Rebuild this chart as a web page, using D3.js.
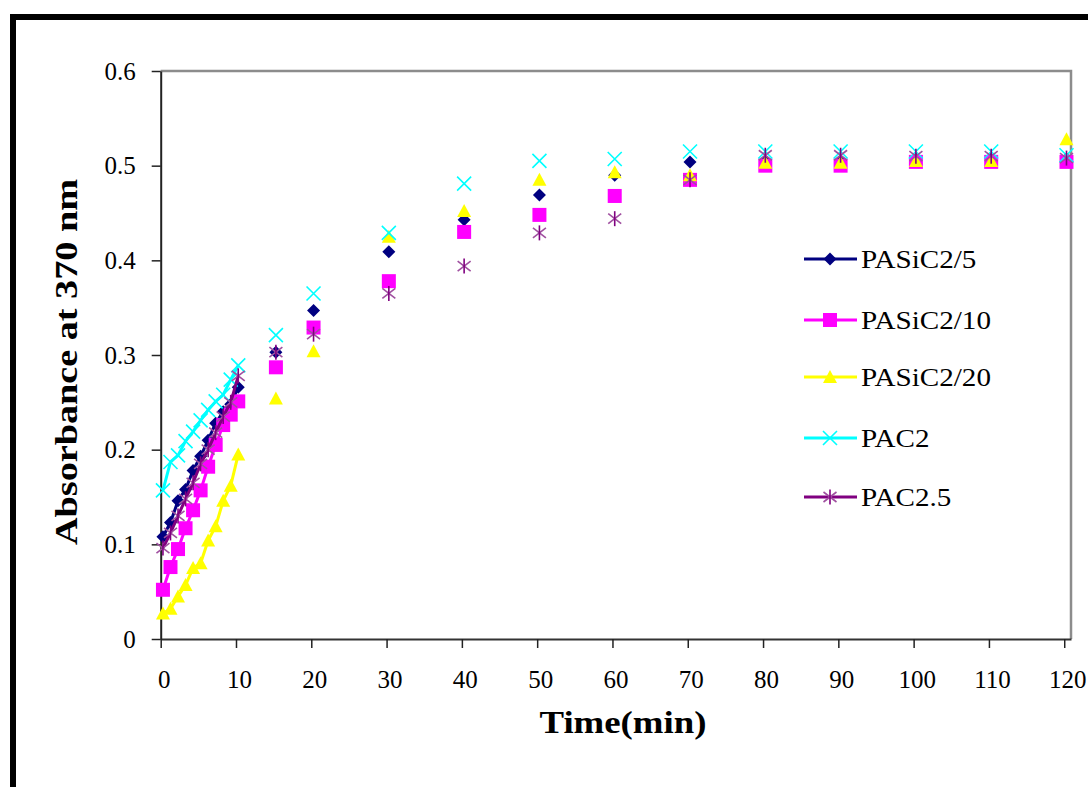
<!DOCTYPE html>
<html><head><meta charset="utf-8">
<script src="https://cdn.jsdelivr.net/npm/d3@7"></script>
<style>body{margin:0;background:#fff;overflow:hidden} text{font-family:"Liberation Serif","Times New Roman",serif;fill:#000}</style>
</head><body><svg id="c" width="1088" height="787"></svg>
<script>
const times = [0.3,1.3,2.3,3.3,4.3,5.3,6.3,7.3,8.3,9.3,10.3,15.3,20.3,30.3,40.3,50.3,60.3,70.3,80.3,90.3,100.3,110.3,120.3];
const pasic5  = [0.108,0.123,0.146,0.158,0.178,0.193,0.210,0.228,0.240,0.248,0.266,0.303,0.347,0.409,0.443,0.469,0.490,0.504,0.505,0.505,0.507,0.507,0.507];
const pasic10 = [0.052,0.076,0.095,0.117,0.136,0.157,0.182,0.205,0.226,0.237,0.251,0.287,0.329,0.378,0.430,0.448,0.468,0.485,0.500,0.500,0.504,0.504,0.504];
const pasic20 = [0.027,0.032,0.045,0.057,0.075,0.080,0.104,0.119,0.146,0.162,0.195,0.254,0.304,0.425,0.452,0.485,0.493,0.490,0.503,0.503,0.505,0.505,0.528];
const pac2    = [0.157,0.187,0.194,0.209,0.219,0.231,0.242,0.251,0.258,0.274,0.289,0.321,0.365,0.429,0.481,0.505,0.507,0.515,0.515,0.515,0.515,0.515,0.511];
const pac25   = [0.096,0.112,0.130,0.148,0.165,0.185,0.200,0.218,0.235,0.250,0.278,0.303,0.322,0.365,0.394,0.429,0.444,0.485,0.511,0.511,0.510,0.510,0.508];
const seriesNames = ["PASiC2/5","PASiC2/10","PASiC2/20","PAC2","PAC2.5"];
const xTicks = [0,10,20,30,40,50,60,70,80,90,100,110,120];
const yTicks = [0,0.1,0.2,0.3,0.4,0.5,0.6];
const connectedCount = 11;

const series = [
  {name: seriesNames[0], values: pasic5,  color: "#000080", marker: "diamond"},
  {name: seriesNames[1], values: pasic10, color: "#FF00FF", marker: "square"},
  {name: seriesNames[2], values: pasic20, color: "#FFFF00", marker: "triangle"},
  {name: seriesNames[3], values: pac2,    color: "#00FFFF", marker: "x"},
  {name: seriesNames[4], values: pac25,   color: "#800080", marker: "star"}
];

const svg = d3.select("#c");
// outer frame
svg.append("rect").attr("x",13).attr("y",17).attr("width",1200).attr("height",900)
  .attr("fill","none").attr("stroke","#000").attr("stroke-width",6);

const L = 160.7, R = 1071, T = 71, B = 639;
const x = d3.scaleLinear().domain([0,120.9]).range([L,R]);
const y = d3.scaleLinear().domain([0,0.6]).range([B,T]);

// plot frame top/right
svg.append("path").attr("d",`M${L},${T}H${R}V${B}`).attr("fill","none").attr("stroke","#8c8c8c").attr("stroke-width",2.5);

// axes
const xAxis = svg.append("g").attr("transform",`translate(0,${B})`)
  .call(d3.axisBottom(x).tickValues(xTicks).tickSize(9).tickSizeOuter(0).tickPadding(22).tickFormat(d3.format("d")));
xAxis.select(".domain").attr("stroke","#333").attr("stroke-width",2);
xAxis.selectAll(".tick line").attr("stroke","#222").attr("stroke-width",1.5);
xAxis.selectAll(".tick text").attr("font-size",25).attr("dx",3).style("font-family",'"Liberation Serif","Times New Roman",serif');

const yAxis = svg.append("g").attr("transform",`translate(${L},0)`)
  .call(d3.axisLeft(y).tickValues(yTicks).tickSize(9).tickSizeOuter(0).tickPadding(16).tickFormat(d => d===0 ? "0" : d3.format(".1f")(d)));
yAxis.select(".domain").attr("stroke","#222").attr("stroke-width",2);
yAxis.selectAll(".tick line").attr("stroke","#222").attr("stroke-width",1.5);
yAxis.selectAll(".tick text").attr("font-size",25).style("font-family",'"Liberation Serif","Times New Roman",serif');

// titles
svg.append("text").attr("x",623).attr("y",733).attr("text-anchor","middle")
  .attr("font-size",31).attr("font-weight","bold").attr("textLength",167).attr("lengthAdjust","spacingAndGlyphs").text("Time(min)");
svg.append("text").attr("transform","translate(77,362) rotate(-90)").attr("text-anchor","middle")
  .attr("font-size",32).attr("font-weight","bold").attr("textLength",366).attr("lengthAdjust","spacingAndGlyphs").text("Absorbance at 370 nm");

function drawMarker(g, type, cx, cy, color){
  if(type==="diamond"){
    g.append("path").attr("d",`M${cx},${cy-6.5}L${cx+6.5},${cy}L${cx},${cy+6.5}L${cx-6.5},${cy}Z`).attr("fill",color);
  } else if(type==="square"){
    g.append("rect").attr("x",cx-7).attr("y",cy-7).attr("width",14).attr("height",14).attr("fill",color);
  } else if(type==="triangle"){
    g.append("path").attr("d",`M${cx},${cy-7}L${cx+7},${cy+6}L${cx-7},${cy+6}Z`).attr("fill",color);
  } else if(type==="x"){
    g.append("path").attr("d",`M${cx-7},${cy-7}L${cx+7},${cy+7}M${cx+7},${cy-7}L${cx-7},${cy+7}`).attr("stroke",color).attr("stroke-width",1.6).attr("fill","none");
  } else if(type==="star"){
    g.append("path").attr("d",`M${cx-6.5},${cy-5}L${cx+6.5},${cy+5}M${cx+6.5},${cy-5}L${cx-6.5},${cy+5}`).attr("stroke","#a050a0").attr("stroke-width",1.6).attr("fill","none");
    g.append("path").attr("d",`M${cx},${cy-7.5}V${cy+7.5}`).attr("stroke",color).attr("stroke-width",1.6);
  }
}

const line = d3.line().x(d=>x(d[0])).y(d=>y(d[1]));
series.forEach(s => {
  const g = svg.append("g");
  const pts = times.map((t,i)=>[t,s.values[i]]);
  g.append("path").attr("d",line(pts.slice(0,connectedCount))).attr("fill","none")
    .attr("stroke",s.color).attr("stroke-width",3).attr("stroke-linejoin","round");
  pts.forEach(p => drawMarker(g, s.marker, x(p[0]), y(p[1]), s.color));
});

// legend
const legY = [259,320,377,438,497];
series.forEach((s,i) => {
  const g = svg.append("g");
  g.append("line").attr("x1",804).attr("x2",857).attr("y1",legY[i]).attr("y2",legY[i]).attr("stroke",s.color).attr("stroke-width",3);
  drawMarker(g, s.marker, 830, legY[i], s.color);
  g.append("text").attr("transform",`translate(861,${legY[i]+9}) scale(1.12,1)`).attr("font-size",26).text(s.name);
});
</script></body></html>
